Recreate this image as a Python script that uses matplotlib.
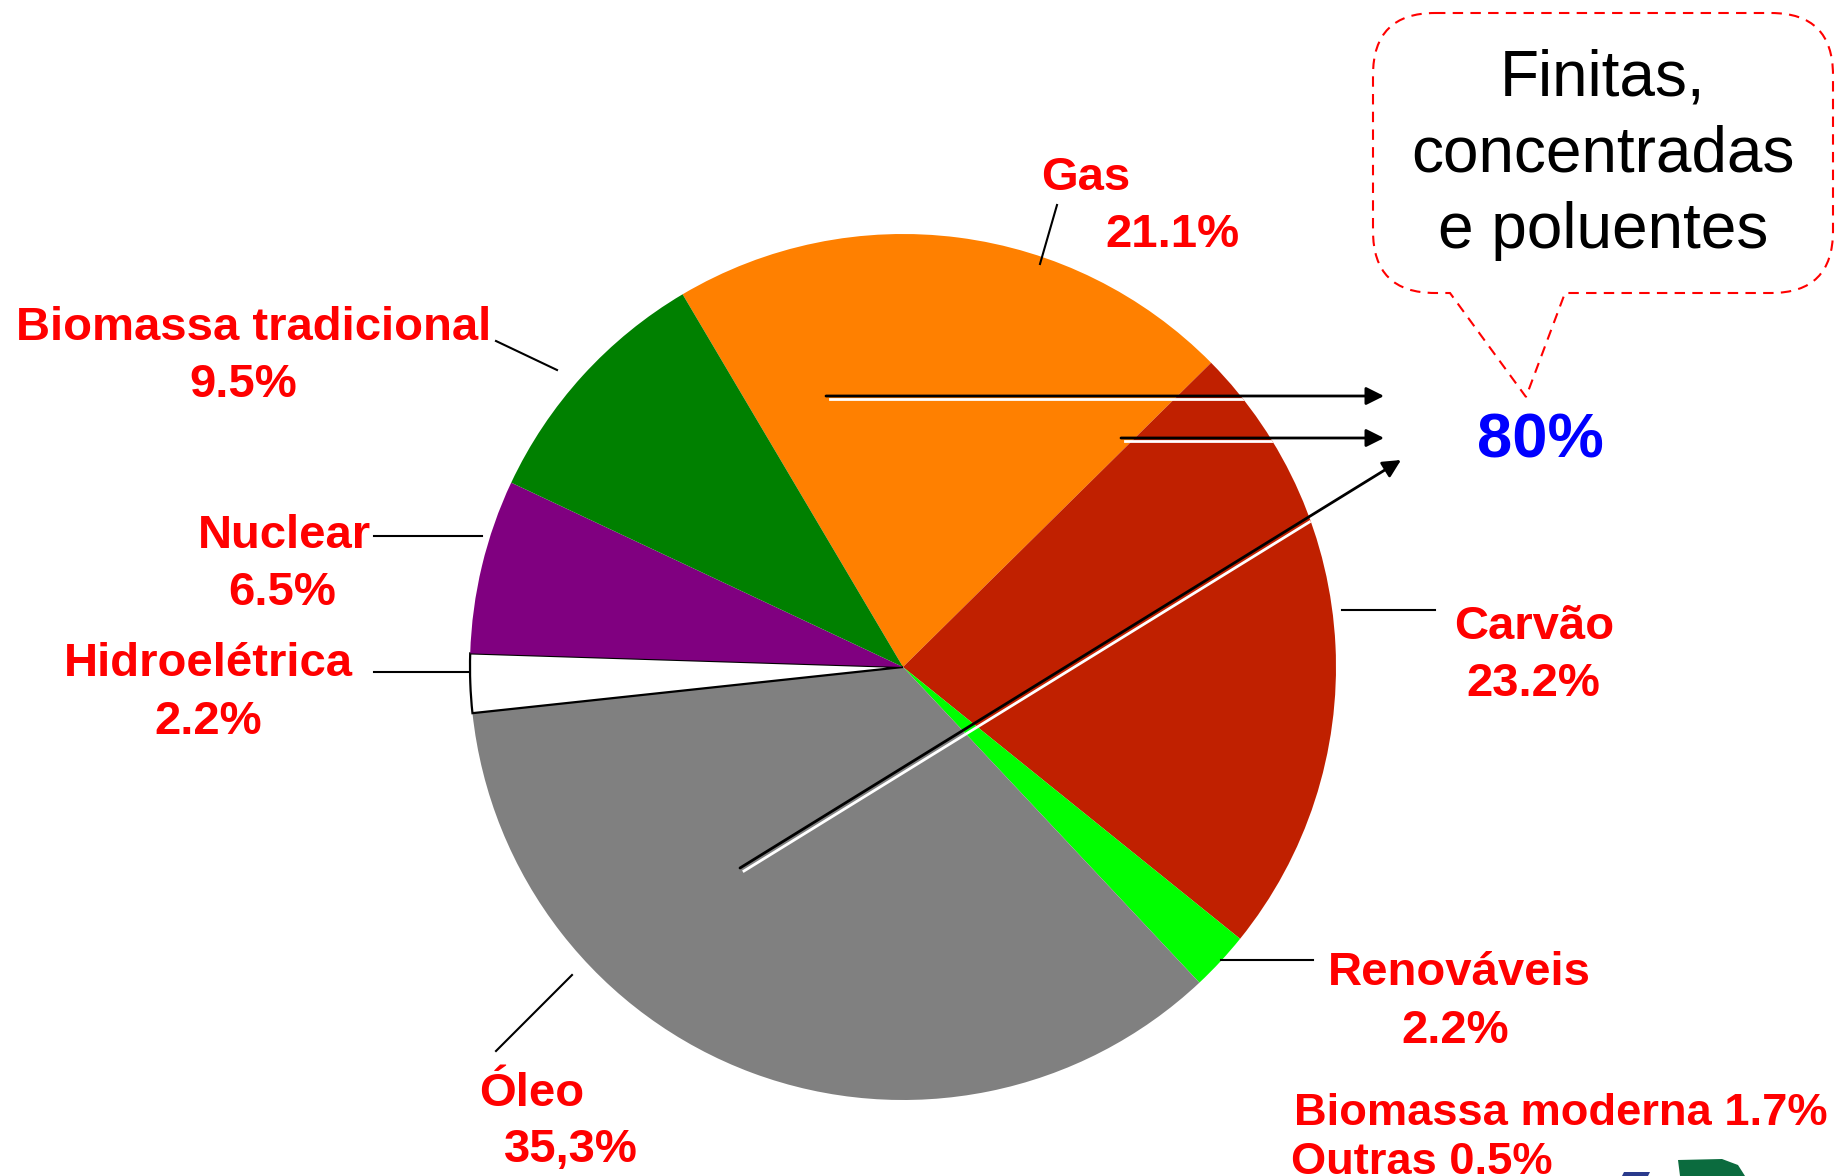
import matplotlib
matplotlib.use("Agg")
import matplotlib.pyplot as plt
from matplotlib.path import Path
from matplotlib.patches import PathPatch, Circle, Polygon

plt.rcParams['font.family'] = ['Liberation Sans', 'DejaVu Sans']

# world primary energy shares (%)
sources = ["Gas", "Carvão", "Renováveis", "Óleo", "Hidroelétrica", "Nuclear", "Biomassa tradicional"]
shares = [21.1, 23.2, 2.2, 35.3, 2.2, 6.5, 9.5]
share_text = ["21.1%", "23.2%", "2.2%", "35,3%", "2.2%", "6.5%", "9.5%"]
colors = ["#FF8000", "#C02000", "#00FF00", "#808080", "#FFFFFF", "#800080", "#008000"]
renew_detail = ["Biomassa moderna 1.7%", "Outras 0.5%"]
fossil_total = "80%"
callout_lines = ["Finitas,", "concentradas", "e poluentes"]

W, H = 1835, 1176
RED = "#FF0000"


def fy(y):
    # picture coords are measured top-down
    return H - y


fig = plt.figure(figsize=(W / 100, H / 100), dpi=100)
ax = fig.add_axes([0, 0, 1, 1])

cx, cy, r = 903, 667, 433
wedges, _ = ax.pie(shares, colors=colors, startangle=120.6, counterclock=False,
                   center=(cx, fy(cy)), radius=r,
                   wedgeprops=dict(linewidth=0))
hydro = wedges[sources.index("Hidroelétrica")]
hydro.set_edgecolor("black")
hydro.set_linewidth(1.6)

ax.set_xlim(0, W)
ax.set_ylim(0, H)
ax.set_aspect("equal")
ax.axis("off")

# label name / value positions (x, baseline) and leader lines
label_pos = {
    "Gas": ((1086, 190), (1172, 247), [(1057, 205), (1040, 264)]),
    "Carvão": ((1534, 639), (1533, 696), [(1342, 610), (1435, 610)]),
    "Renováveis": ((1459, 985), (1455, 1043), [(1221, 960), (1313, 960)]),
    "Óleo": ((532, 1106), (571, 1162), [(496, 1051), (572, 975)]),
    "Hidroelétrica": ((208, 676), (208, 734), [(374, 672), (468, 672)]),
    "Nuclear": ((284, 548), (282, 605), [(374, 536), (482, 536)]),
    "Biomassa tradicional": ((254, 340), (243, 397), [(496, 341), (557, 370)]),
}
for name, pct in zip(sources, share_text):
    (nx, ny), (px, py), line = label_pos[name]
    ax.text(nx, fy(ny), name, color=RED, fontsize=34, fontweight="bold",
            ha="center", va="baseline")
    ax.text(px, fy(py), pct, color=RED, fontsize=34, fontweight="bold",
            ha="center", va="baseline")
    ax.plot([p[0] for p in line], [fy(p[1]) for p in line], color="black", lw=1.5)

ax.text(1294, fy(1125), renew_detail[0], color=RED, fontsize=32.6, fontweight="bold",
        ha="left", va="baseline")
ax.text(1291, fy(1174), renew_detail[1], color=RED, fontsize=32.6, fontweight="bold",
        ha="left", va="baseline")

# arrows from fossil slices to the total
pie_clip = Circle((cx, fy(cy)), r, transform=ax.transData)
arrows = [((826, 396), (1384, 396)), ((1121, 438), (1384, 438)), ((740, 868), (1401, 460))]
for (x0, y0), (x1, y1) in arrows:
    shadow, = ax.plot([x0 + 4, x1 + 4], [fy(y0 + 3), fy(y1 + 3)], color="white", lw=2)
    shadow.set_clip_path(pie_clip)
    ax.annotate("", xy=(x1, fy(y1)), xytext=(x0, fy(y0)),
                arrowprops=dict(arrowstyle="-|>", color="black", lw=2,
                                mutation_scale=27, shrinkA=0, shrinkB=0))

ax.text(1540, fy(457), fossil_total, color="#0000FF", fontsize=45.5, fontweight="bold",
        ha="center", va="baseline")

# dashed speech bubble
L, R, T, B, rc = 1373, 1833, 13, 293, 62
pts = [(L + rc, T), (R - rc, T), (R, T), (R, T + rc), (R, B - rc), (R, B), (R - rc, B),
       (1565, B), (1526, 397), (1450, B), (L + rc, B), (L, B), (L, B - rc), (L, T + rc),
       (L, T), (L + rc, T)]
codes = [Path.MOVETO, Path.LINETO, Path.CURVE3, Path.CURVE3, Path.LINETO, Path.CURVE3,
         Path.CURVE3, Path.LINETO, Path.LINETO, Path.LINETO, Path.LINETO, Path.CURVE3,
         Path.CURVE3, Path.LINETO, Path.CURVE3, Path.CURVE3]
bubble = Path([(x, fy(y)) for x, y in pts], codes)
ax.add_patch(PathPatch(bubble, facecolor="none", edgecolor=RED, lw=1.5,
                       linestyle=(0, (5, 3.5))))
for line, base in zip(callout_lines, [95, 172, 248]):
    ax.text(1603, fy(base), line, color="black", fontsize=46, ha="center", va="baseline")

# corner of a logo peeking in at the bottom
ax.add_patch(Polygon([(1624, fy(1172)), (1650, fy(1172)), (1648, fy(1176)), (1622, fy(1176))],
                     closed=True, color="#2A3A8C", lw=0))
ax.add_patch(Polygon([(1678, fy(1160)), (1722, fy(1159)), (1738, fy(1165)), (1745, fy(1176)),
                      (1680, fy(1176))], closed=True, color="#0B6B3E", lw=0))

fig.savefig("out.png", dpi=100)
